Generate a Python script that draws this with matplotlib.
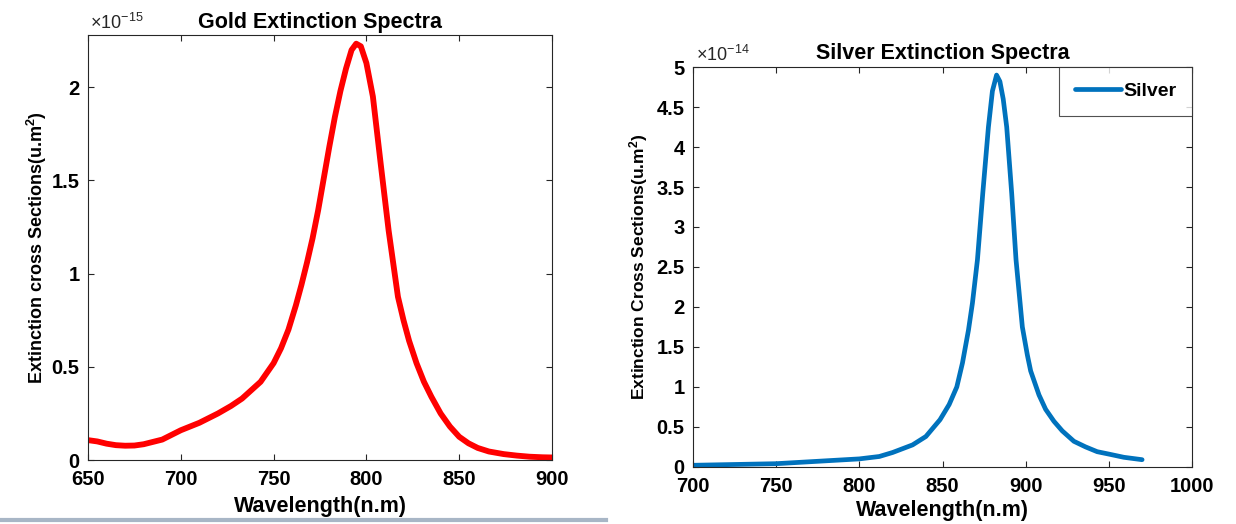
import numpy as np
import matplotlib
matplotlib.use('Agg')
import matplotlib.pyplot as plt
from matplotlib.lines import Line2D

plt.rcParams['font.family'] = ['Liberation Sans', 'DejaVu Sans']
plt.rcParams['font.weight'] = 'bold'
plt.rcParams['mathtext.default'] = 'regular'

# gold spectrum (values in units of 1e-15 um^2)
gold_wl = [650, 655, 660, 665, 670, 675, 680, 690, 700, 710, 720, 727, 733, 738,
           743, 750, 754, 758, 762, 765, 768, 771, 774, 777, 780, 783, 786, 789,
           792, 794.5, 797, 800, 803.5, 807.7, 812, 817, 820, 823, 827, 831, 835,
           840, 845, 850, 855, 860, 866, 874, 881, 888, 895, 900]
gold_ext = [0.107, 0.10, 0.088, 0.08, 0.077, 0.078, 0.085, 0.11, 0.16, 0.20, 0.25,
            0.29, 0.33, 0.375, 0.42, 0.52, 0.60, 0.70, 0.83, 0.94, 1.06, 1.19,
            1.34, 1.51, 1.68, 1.84, 1.98, 2.1, 2.2, 2.234, 2.22, 2.13, 1.95, 1.59,
            1.23, 0.876, 0.75, 0.64, 0.52, 0.42, 0.34, 0.25, 0.18, 0.125, 0.09,
            0.065, 0.046, 0.032, 0.024, 0.018, 0.015, 0.014]

# silver spectrum (values in units of 1e-14 um^2)
silver_wl = [700, 725, 750, 775, 800, 812, 820, 832, 840, 848.5, 854, 858.6, 862,
             865.6, 868, 871, 874.2, 877.6, 880, 882.5, 884.5, 886.5, 888.6, 891.6,
             894.2, 898, 901, 903, 908, 912, 917, 922, 929, 936, 943, 950, 959,
             970]
silver_ext = [0.02, 0.03, 0.04, 0.07, 0.10, 0.13, 0.18, 0.275, 0.38, 0.59, 0.78,
              1.0, 1.3, 1.71, 2.05, 2.59, 3.42, 4.25, 4.7, 4.9, 4.82, 4.6, 4.25,
              3.42, 2.59, 1.75, 1.4, 1.2, 0.9, 0.72, 0.57, 0.45, 0.32, 0.25, 0.19,
              0.16, 0.12, 0.09]

gold_xticks = [650, 700, 750, 800, 850, 900]
gold_yticks = [0, 0.5, 1, 1.5, 2]
silver_xticks = [700, 750, 800, 850, 900, 950, 1000]
silver_yticks = [0, 0.5, 1, 1.5, 2, 2.5, 3, 3.5, 4, 4.5, 5]

fig = plt.figure(figsize=(12.36, 5.24), dpi=100)
ax1 = fig.add_axes([0.0712, 0.122, 0.3754, 0.811])
ax2 = fig.add_axes([0.5607, 0.109, 0.4037, 0.763])


def style(ax, xticks, yticks, scale):
    ax.set_xticks(xticks)
    ax.set_yticks([v * scale for v in yticks])
    ax.set_yticklabels([f'{v:g}' for v in yticks])
    ax.tick_params(direction='in', top=True, right=True, labelsize=14.5,
                   length=4, width=0.8, color='#262626')
    ax.tick_params(axis='x', pad=7)
    ax.tick_params(axis='y', pad=6)
    for sp in ax.spines.values():
        sp.set_linewidth(0.8)
        sp.set_color('#262626')
    exp = int(np.log10(scale))
    ax.text(0.005, 1.005, r'$\times10^{-%d}$' % -exp, transform=ax.transAxes,
            fontsize=13, fontweight='normal', color='#262626', va='bottom')


ax1.plot(np.array(gold_wl), np.array(gold_ext) * 1e-15, color='red', lw=4.2,
         solid_capstyle='round', solid_joinstyle='round')
ax1.set_xlim(650, 900)
ax1.set_ylim(0, 2.28e-15)
style(ax1, gold_xticks, gold_yticks, 1e-15)
ax1.set_title('Gold Extinction Spectra', fontsize=15.5, fontweight='bold', pad=5)
ax1.set_xlabel('Wavelength(n.m)', fontsize=15.5, fontweight='bold', labelpad=5)
ax1.set_ylabel(r'Extinction cross Sections(u.m$^{2}$)', fontsize=13,
               fontweight='bold', labelpad=2)

ax2.plot(np.array(silver_wl), np.array(silver_ext) * 1e-14, color='#0072BD',
         lw=3.4, solid_capstyle='round', solid_joinstyle='round', label='Silver')
ax2.set_xlim(700, 1000)
ax2.set_ylim(0, 5e-14)
style(ax2, silver_xticks, silver_yticks, 1e-14)
ax2.set_title('Silver Extinction Spectra', fontsize=15.5, fontweight='bold', pad=6)
ax2.set_xlabel('Wavelength(n.m)', fontsize=15.5, fontweight='bold', labelpad=3)
ax2.set_ylabel(r'Extinction Cross Sections(u.m$^{2}$)', fontsize=12.5,
               fontweight='bold', labelpad=5)
leg = ax2.legend(loc='upper right', fontsize=14, frameon=True, fancybox=False,
                 borderpad=0.8, handlelength=2.4, handletextpad=0.1,
                 borderaxespad=0)
leg.get_frame().set_edgecolor('#262626')
leg.get_frame().set_linewidth(0.8)

# screenshot edge strip at the bottom
fig.add_artist(Line2D([0, 0.49], [0.008, 0.008], color='#a8b6c6', lw=3,
                      transform=fig.transFigure))

fig.savefig('out.png', dpi=100)
